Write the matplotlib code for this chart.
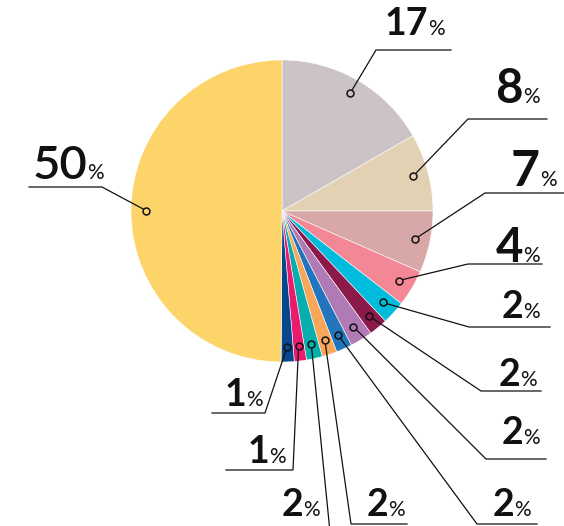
import numpy as np
import matplotlib
matplotlib.use('Agg')
import matplotlib.pyplot as plt

W, H = 564, 526

# slice shares as drawn (clockwise from 12 o'clock), the rounded labels and colours
shares = [16.7, 8.3, 6.6, 3.9, 2.5, 2.0, 2.4, 1.7, 1.6, 1.7, 1.3, 1.4, 49.9]
labels = ['17', '8', '7', '4', '2', '2', '2', '2', '2', '2', '1', '1', '50']
colors = ['#cbc3c6', '#e3d1b3', '#d8a7a8', '#f48795', '#00bcdc', '#8b1a4b',
          '#b07bb5', '#2274bd', '#f9a55a', '#08aeae', '#eb1a6e', '#07478d',
          '#fdd46a']

# label layout, in image pixels (y from the top)
elbow_x = [376, 468, 485, 468, 469, 481, 486, 477, 351, 330, 293, 265, 102]
elbow_y = [50, 119, 193, 264, 327, 391, 459, 524, 524, 532, 470, 413, 187]
end_x = [451, 547, 564, 542, 550, 541, 546, 537, 407, 262, 226, 212, 29]
num_right = [428, 523, 540, 523, 523, 520, 523, 514, 388, 303, 269, 246, 87]
base_y = [35, 103, 186, 262, 318, 386, 444, 516, 516, 516, 463, 406, 179]
num_size = [27, 34, 36, 34, 27, 27, 27, 27, 27, 27, 27, 27, 34]
num_weight = ['bold'] * 12 + ['semibold']

cx, cy, rad = 282, 211, 151

fig = plt.figure(figsize=(W / 100, H / 100), dpi=100)
ax = fig.add_axes([0, 0, 1, 1])

wedges, _ = ax.pie(shares, colors=colors, startangle=90, counterclock=False,
                   center=(cx, H - cy), radius=rad,
                   wedgeprops=dict(edgecolor='white', linewidth=0.4))

for i, w in enumerate(wedges):
    th = np.radians((w.theta1 + w.theta2) / 2)
    mx = cx + 0.9 * rad * np.cos(th)
    my = H - cy + 0.9 * rad * np.sin(th)
    ey = H - elbow_y[i]
    ax.plot([mx, elbow_x[i], end_x[i]], [my, ey, ey], color='#111111',
            lw=0.9, solid_joinstyle='miter', zorder=3)
    ax.plot(mx, my, 'o', ms=5, mfc=colors[i], mec='#111111', mew=1.1, zorder=4)

    ax.text(num_right[i], H - base_y[i], labels[i], ha='right', va='baseline',
            fontsize=num_size[i], fontweight=num_weight[i], family='Lato',
            color='#111111')
    ax.text(num_right[i], H - base_y[i], '%', ha='left', va='baseline',
            fontsize=15, family='Lato', color='#111111')

ax.set_xlim(0, W)
ax.set_ylim(0, H)
ax.set_aspect('equal')
ax.axis('off')

fig.savefig('out.png', dpi=100)
